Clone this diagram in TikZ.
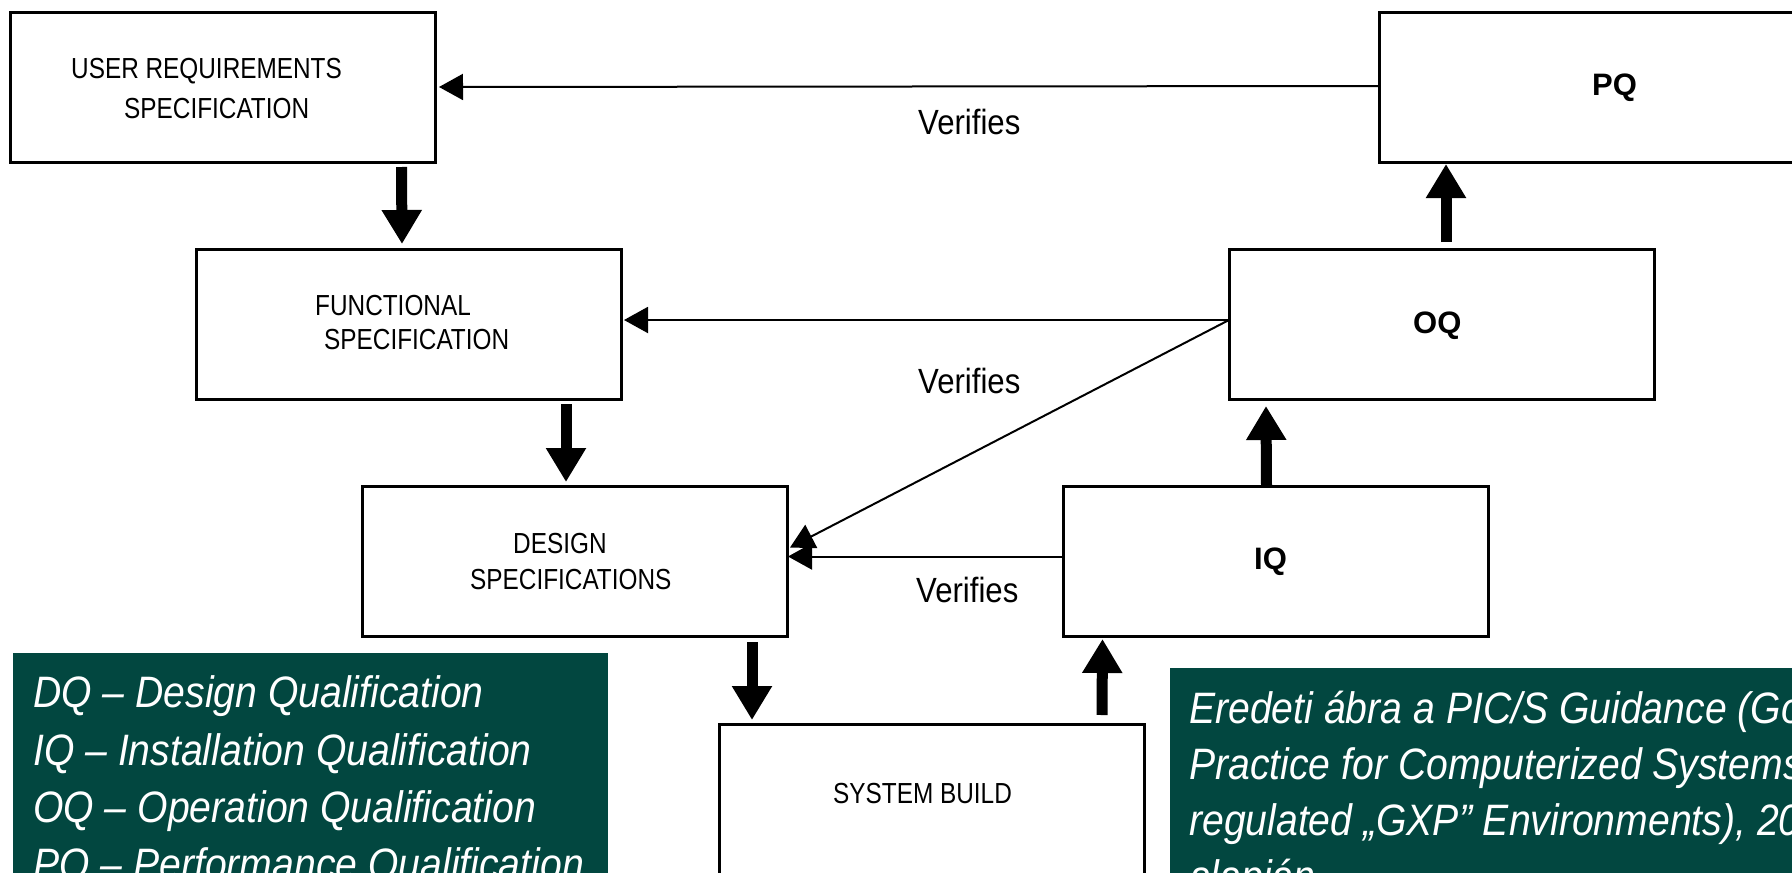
\documentclass[tikz,border=0pt]{standalone}
\usepackage{fontspec}
\usetikzlibrary{arrows.meta}
% narrow sans for the box labels and notes
\newfontfamily\diagfont[FakeStretch=0.84]{Liberation Sans}
\newfontfamily\labelfont[FakeStretch=0.89]{Liberation Sans}
\newfontfamily\qfont{Liberation Sans}
\newfontfamily\notefont[FakeStretch=0.89]{Liberation Sans}
\definecolor{notegreen}{RGB}{2,71,64}

\begin{document}
\begin{tikzpicture}[x=1pt,y=-1pt,
  box/.style={draw=black, line width=3pt, fill=white, rectangle, anchor=north west,
    minimum width=425pt, minimum height=150pt, inner sep=0pt, outer sep=0pt},
  boxtext/.style={anchor=base west, inner sep=0pt, font=\diagfont\fontsize{29pt}{35pt}\selectfont},
  qtext/.style={anchor=base west, inner sep=0pt, font=\qfont\bfseries\fontsize{31pt}{37pt}\selectfont},
  verif/.style={anchor=base west, inner sep=0pt, font=\labelfont\fontsize{35pt}{42pt}\selectfont},
  notebox/.style={fill=notegreen, draw=none},
  note/.style={anchor=base west, inner sep=0pt, text=white,
    font=\notefont\itshape\fontsize{44pt}{57pt}\selectfont},
  flow/.style={line width=11pt, -{Triangle[width=38pt,length=34pt]}},
  verifies/.style={line width=2pt, -{Triangle[width=26pt,length=24pt]}},
]
\useasboundingbox (0,0) rectangle (1792,873);
\fill[white] (0,0) rectangle (1792,873);
\clip (0,0) rectangle (1792,873);

% specification / qualification boxes
\node[box] (URS) at (10,12) {};
\node[box] (FS)  at (196,249) {};
\node[box] (DS)  at (362,486) {};
\node[box, minimum height=180pt] (SB) at (719,724) {};
\node[box] (IQ)  at (1063,486) {};
\node[box] (OQ)  at (1229,249) {};
\node[box, minimum width=431pt] (PQ) at (1379,12) {};

% box labels
\node[boxtext] (ursA) at (71,78)  {USER REQUIREMENTS};
\node[boxtext] (ursB) at (124,118) {SPECIFICATION};
\node[boxtext] (fsA)  at (315,315) {FUNCTIONAL};
\node[boxtext] (fsB)  at (324,349) {SPECIFICATION};
\node[boxtext] (dsA)  at (513,553) {DESIGN};
\node[boxtext] (dsB)  at (470,589) {SPECIFICATIONS};
\node[boxtext] (sbA)  at (833,803) {SYSTEM BUILD};
\node[qtext] (pqA) at (1592,95)  {PQ};
\node[qtext] (oqA) at (1413,333) {OQ};
\node[qtext] (iqA) at (1254,569) {IQ};

% development flow
\draw[flow] ([xshift=179pt,yshift=-5pt]URS.south) -- ([xshift=-6.5pt,yshift=5pt]FS.north);
\draw[flow] ([xshift=157.5pt,yshift=-5pt]FS.south) -- ([xshift=-8.5pt,yshift=4pt]DS.north);
\draw[flow] ([xshift=177.5pt,yshift=-6pt]DS.south) -- ([xshift=-179.5pt,yshift=4pt]SB.north);
\draw[flow] ([xshift=170.5pt,yshift=9pt]SB.north) -- ([xshift=-173pt,yshift=-3pt]IQ.south);
\draw[flow] ([xshift=-9pt]IQ.north) -- ([xshift=-175.5pt,yshift=-7pt]OQ.south);
\draw[flow] ([xshift=4.5pt,yshift=7pt]OQ.north) -- ([xshift=-148.5pt,yshift=-2pt]PQ.south);

% verification links
\draw[verifies] ([yshift=1pt]PQ.west) -- ([xshift=4pt,yshift=0pt]URS.east);
\draw[verifies] ([yshift=4pt]OQ.west) -- ([xshift=3pt,yshift=4pt]FS.east);
\draw[verifies] ([yshift=4pt]OQ.west) -- ([xshift=3pt,yshift=13.5pt]DS.east);
\draw[verifies] ([yshift=4.5pt]IQ.west) -- ([xshift=1pt,yshift=4.5pt]DS.east);

\node[verif] (vTop) at (918,134) {Verifies};
\node[verif] (vMid) at (918,393) {Verifies};
\node[verif] (vLow) at (916,602) {Verifies};

% abbreviation note
\fill[notebox] (13,653) rectangle (608,880);
\node[note] (nA) at (33,707) {DQ – Design Qualification};
\node[note] (nB) at (33,765) {IQ – Installation Qualification};
\node[note] (nC) at (33,822) {OQ – Operation Qualification};
\node[note] (nD) at (33,879) {PQ – Performance Qualification};

% source note
\fill[notebox] (1170,668) rectangle (1800,880);
\node[note] (sA) at (1189,723) {Eredeti ábra a PIC/S Guidance (Good};
\node[note] (sB) at (1189,779) {Practice for Computerized Systems in};
\node[note] (sC) at (1189,835) {regulated „GXP” Environments), 2007};
\node[note] (sD) at (1189,891) {alapján};
\end{tikzpicture}
\end{document}
